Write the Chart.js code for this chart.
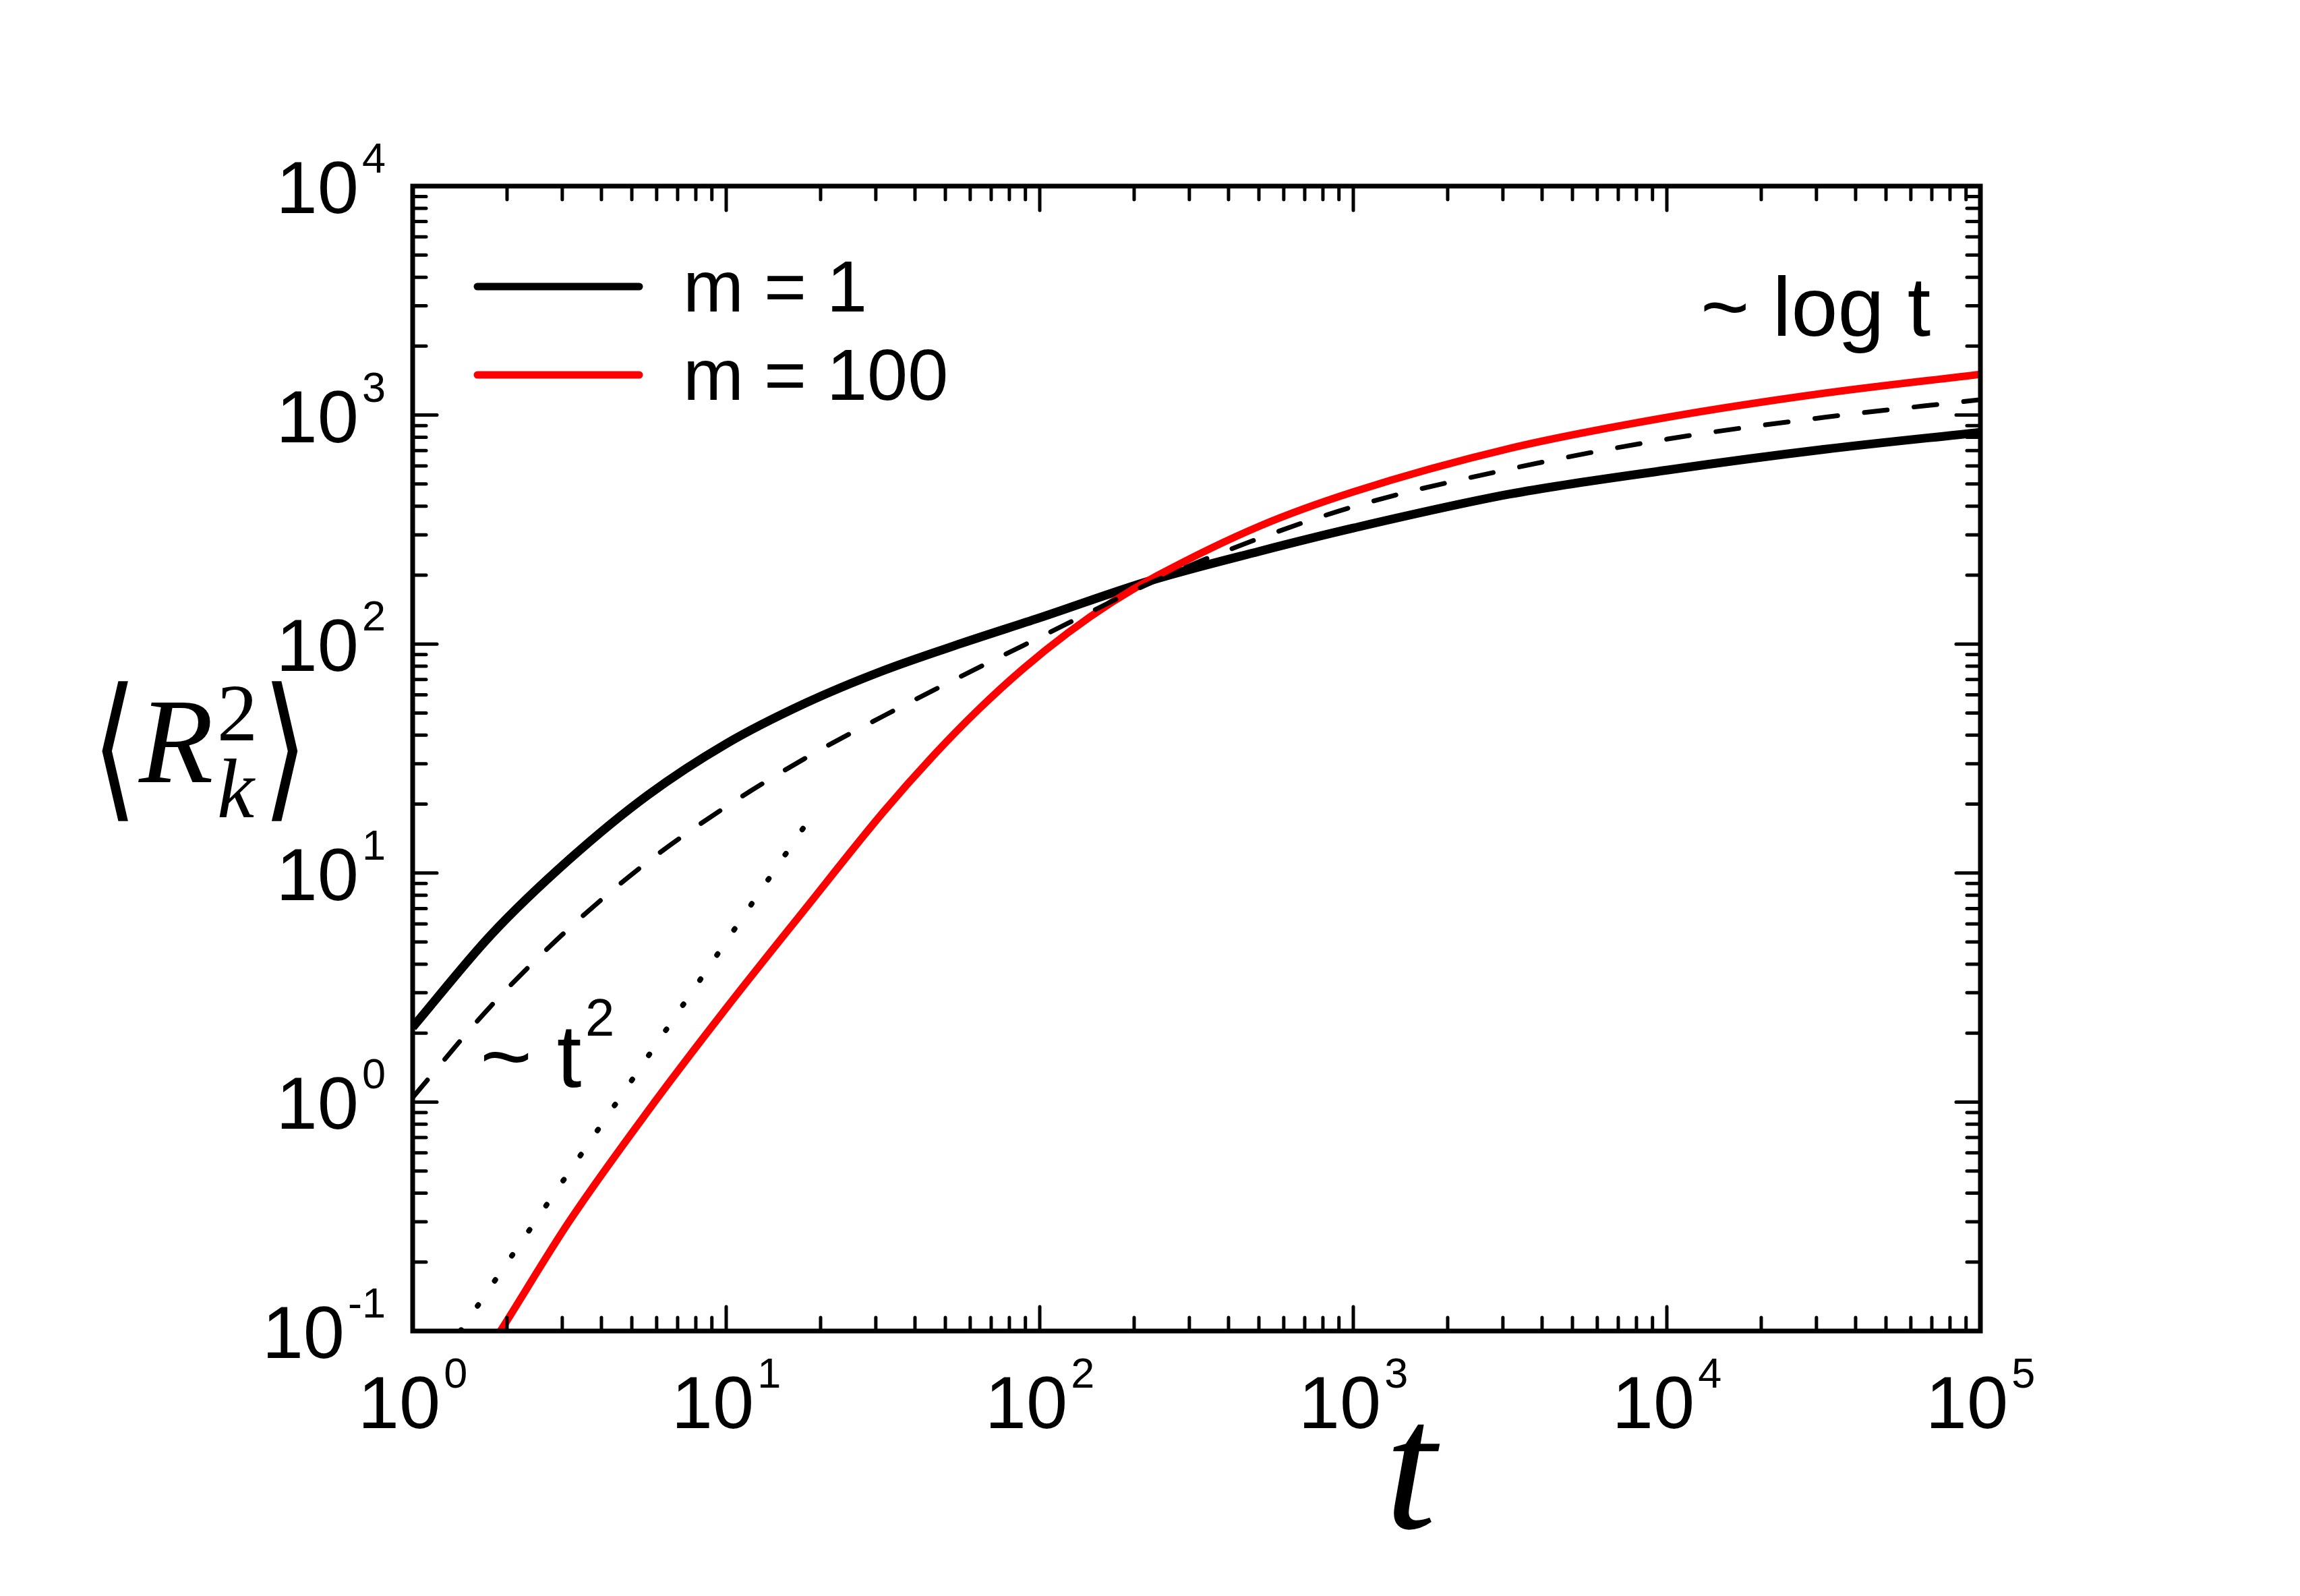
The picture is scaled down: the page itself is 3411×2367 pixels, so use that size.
<!DOCTYPE html>
<html>
<head>
<meta charset="utf-8">
<script src="https://cdn.jsdelivr.net/npm/chart.js@4.4.1/dist/chart.umd.min.js"></script>
<style>
  html, body { margin: 0; padding: 0; background: #ffffff; }
  canvas { display: block; }
</style>
</head>
<body>
<canvas id="c" width="3411" height="2367"></canvas>
<script>
// ---------------- data ----------------
const seriesLabels = ['m = 1', 'm = 100'];

const tBlack = [1, 1.778, 3.162, 5.623, 10, 17.78, 31.62, 56.23, 100, 223.9, 501.2, 1000, 3162, 10000, 31623, 100000];
const rBlack = [2.12, 5.37, 11.48, 21.9, 36.7, 55.0, 76.5, 100.7, 130.3, 188.8, 254, 321, 452, 575, 708, 841];

const tRed = [1.585, 1.905, 3.162, 5.623, 10, 17.78, 31.62, 45.6, 63.4, 88.3, 122.7, 170.6, 237.1, 501.2, 1000, 3162, 10000, 31623, 100000];
const rRed = [0.0676, 0.1, 0.302, 0.912, 2.57, 6.92, 18.4, 32.4, 51.4, 77.8, 111.7, 152.8, 199, 327, 462, 716, 977, 1245, 1507];

const tDashed = [1, 1.778, 3.162, 5.623, 10, 17.78, 31.62, 56.23, 100, 223.9, 398.1, 1000, 3162, 10000, 31623, 100000];
const rDashed = [1.047, 2.63, 5.75, 11.2, 19.5, 31.6, 48.4, 72.4, 107, 184, 257, 398, 582, 785, 977, 1167];

const tDotted = [1.42, 5.3, 19.5];
const rDotted = [0.1, 1.4, 19.3];

const xTickExponents = [0, 1, 2, 3, 4, 5];
const yTickExponents = [-1, 0, 1, 2, 3, 4];

const toPoints = (ts, rs) => ts.map((t, i) => ({ x: t, y: rs[i] }));

// ---------------- decorations plugin ----------------
const SANS = '"Liberation Sans", Arial, sans-serif';
const SERIF = '"Liberation Serif", "Times New Roman", serif';

function powLabel(ctx, exp, anchorX, baseY, align) {
  const big = '110px ' + SANS, small = '63px ' + SANS;
  ctx.font = big; const w1 = ctx.measureText('10').width;
  ctx.font = small; const w2 = ctx.measureText(String(exp)).width;
  const gap = 5, total = w1 + gap + w2;
  const start = align === 'center' ? anchorX - total / 2 : anchorX - total;
  ctx.textAlign = 'left'; ctx.textBaseline = 'alphabetic';
  ctx.font = big; ctx.fillText('10', start, baseY);
  ctx.font = small; ctx.fillText(String(exp), start + w1 + gap, baseY - 60);
}

function stretchedGlyph(ctx, ch, left, top, width, height) {
  ctx.save();
  ctx.font = '200 100px "DejaVu Sans"';
  ctx.textAlign = 'left'; ctx.textBaseline = 'alphabetic';
  const m = ctx.measureText(ch);
  const gx = -m.actualBoundingBoxLeft, gw = m.actualBoundingBoxLeft + m.actualBoundingBoxRight;
  const gy = -m.actualBoundingBoxAscent, gh = m.actualBoundingBoxAscent + m.actualBoundingBoxDescent;
  ctx.translate(left, top);
  ctx.scale(width / gw, height / gh);
  ctx.fillText(ch, -gx, -gy);
  ctx.restore();
}

const decor = {
  id: 'decor',
  afterDraw(chart) {
    const { ctx, chartArea: a, scales: { x, y } } = chart;
    ctx.save();
    ctx.fillStyle = '#000'; ctx.strokeStyle = '#000';

    // minor & major ticks (inward, mirrored on all four sides)
    const seg = (x1, y1, x2, y2) => { ctx.beginPath(); ctx.moveTo(x1, y1); ctx.lineTo(x2, y2); ctx.stroke(); };
    ctx.lineWidth = 5; ctx.lineCap = 'round';
    const majorLen = 36, minorLen = 20;
    const xMinE = Math.log10(x.min), xMaxE = Math.log10(x.max);
    for (let e = Math.floor(xMinE); e <= Math.ceil(xMaxE); e++) {
      for (let k = 1; k <= 9; k++) {
        const v = k * Math.pow(10, e);
        if (v < x.min * 0.999 || v > x.max * 1.001) continue;
        const px = x.getPixelForValue(v), len = k === 1 ? majorLen : minorLen;
        seg(px, a.bottom, px, a.bottom - len);
        seg(px, a.top, px, a.top + len);
      }
    }
    const yMinE = Math.log10(y.min), yMaxE = Math.log10(y.max);
    for (let e = Math.floor(yMinE); e <= Math.ceil(yMaxE); e++) {
      for (let k = 1; k <= 9; k++) {
        const v = k * Math.pow(10, e);
        if (v < y.min * 0.999 || v > y.max * 1.001) continue;
        const py = y.getPixelForValue(v), len = k === 1 ? majorLen : minorLen;
        seg(a.left, py, a.left + len, py);
        seg(a.right, py, a.right - len, py);
      }
    }
    // frame
    ctx.lineWidth = 7; ctx.lineCap = 'butt'; ctx.lineJoin = 'miter';
    ctx.strokeRect(a.left, a.top, a.right - a.left, a.bottom - a.top);

    // tick labels
    xTickExponents.forEach(e => powLabel(ctx, e, x.getPixelForValue(Math.pow(10, e)), a.bottom + 144, 'center'));
    yTickExponents.forEach(e => powLabel(ctx, e, a.left - 40, y.getPixelForValue(Math.pow(10, e)) + 40, 'right'));

    // legend (inside plot)
    const ds = chart.data.datasets;
    [0, 1].forEach((i, row) => {
      const ly = 425 + row * 131;
      ctx.strokeStyle = ds[i].borderColor; ctx.lineWidth = 11; ctx.lineCap = 'round';
      seg(708, ly, 948, ly);
      ctx.fillStyle = '#000'; ctx.font = '108px ' + SANS; ctx.textAlign = 'left'; ctx.textBaseline = 'alphabetic';
      ctx.fillText(ds[i].label, 1013, ly + 37);
    });

    // annotations
    ctx.fillStyle = '#000'; ctx.textAlign = 'left'; ctx.textBaseline = 'alphabetic';
    ctx.font = '124px ' + SANS;
    ctx.fillText('~ log t', 2522, 498);
    ctx.font = '132px ' + SANS;
    ctx.fillText('~ t', 712, 1612);
    ctx.font = '78px ' + SANS;
    ctx.fillText('2', 868, 1536);

    // x axis title
    ctx.font = 'italic 272px ' + SERIF;
    ctx.textAlign = 'center';
    ctx.fillText('t', 2092, 2266);

    // y axis title  <R_k^2>
    stretchedGlyph(ctx, '\u27E8', 150, 1010, 40, 210);
    stretchedGlyph(ctx, '\u27E9', 403, 1010, 40, 210);
    ctx.textAlign = 'left';
    ctx.font = 'italic 181px ' + SERIF;
    ctx.fillText('R', 206, 1160);
    ctx.font = '120px ' + SERIF;
    ctx.fillText('2', 322, 1098);
    ctx.font = 'italic 124px ' + SERIF;
    ctx.fillText('k', 322, 1212);
    ctx.restore();
  }
};

// ---------------- chart ----------------
new Chart(document.getElementById('c'), {
  type: 'line',
  data: {
    datasets: [
      { label: seriesLabels[0], data: toPoints(tBlack, rBlack), borderColor: '#000000', borderWidth: 13,
        pointRadius: 0, cubicInterpolationMode: 'monotone', fill: false, order: 2 },
      { label: seriesLabels[1], data: toPoints(tRed, rRed), borderColor: '#ff0000', borderWidth: 11,
        pointRadius: 0, cubicInterpolationMode: 'monotone', fill: false, order: 1 },
      { label: 'dashed', data: toPoints(tDashed, rDashed), borderColor: '#000000', borderWidth: 7,
        borderDash: [34, 40], borderCapStyle: 'round', pointRadius: 0, cubicInterpolationMode: 'monotone', fill: false, order: 0 },
      { label: 'dotted', data: toPoints(tDotted, rDotted), borderColor: '#000000', borderWidth: 8,
        borderDash: [2, 43], borderCapStyle: 'round', pointRadius: 0, tension: 0, fill: false, order: 0 }
    ]
  },
  options: {
    responsive: false,
    animation: false,
    devicePixelRatio: 1,
    layout: { padding: { left: 612, right: 474, top: 276, bottom: 393 } },
    plugins: { legend: { display: false }, tooltip: { enabled: false } },
    scales: {
      x: { type: 'logarithmic', min: 1, max: 100000, display: false },
      y: { type: 'logarithmic', min: 0.1, max: 10000, display: false }
    }
  },
  plugins: [decor]
});
</script>
</body>
</html>
